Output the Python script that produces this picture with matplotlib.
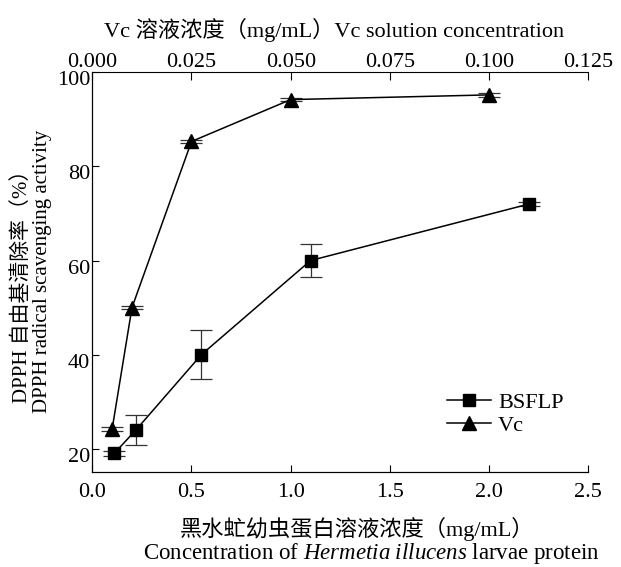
import matplotlib
matplotlib.use("Agg")
import matplotlib.pyplot as plt
import matplotlib.transforms as mtransforms

plt.rcParams['font.family'] = ['Liberation Serif', 'Noto Sans CJK SC', 'DejaVu Sans']
plt.rcParams['mathtext.fontset'] = 'custom'
plt.rcParams['mathtext.rm'] = 'Liberation Serif'
plt.rcParams['mathtext.it'] = 'Liberation Serif:italic'

# Data
bsflp_x = [0.11, 0.22, 0.55, 1.1, 2.2]          # mg/mL (bottom axis)
bsflp_y = [19.0, 24.0, 40.0, 60.0, 72.0]
bsflp_err = [0.5, 3.2, 5.2, 3.5, 0.5]

vc_x = [0.005, 0.01, 0.025, 0.05, 0.1]          # mg/mL (top axis)
vc_y = [24.2, 50.0, 85.3, 94.2, 95.2]
vc_err = [0.4, 0.4, 0.4, 0.4, 0.4]

bottom_ticks = [0.0, 0.5, 1.0, 1.5, 2.0, 2.5]
top_ticks = [0.0, 0.025, 0.05, 0.075, 0.1, 0.125]
y_ticks = [20, 40, 60, 80, 100]

W, H = 621, 567
fig = plt.figure(figsize=(W / 100, H / 100), dpi=100)
L, R, T, B = 92.3, 588.3, 72.3, 472.3
ax = fig.add_axes([L / W, (H - B) / H, (R - L) / W, (B - T) / H])
ax.set_xlim(0, 2.5)
ax.set_ylim(15, 100)
ax.spines['right'].set_visible(False)
ax.spines['top'].set_visible(False)
for s in ax.spines.values():
    s.set_linewidth(0.8)

ax.set_xticks(bottom_ticks)
ax.set_xticklabels([f"{v:.1f}" for v in bottom_ticks])
ax.set_yticks(y_ticks)
ax.set_yticklabels([str(v) for v in y_ticks])
ax.tick_params(axis='x', direction='in', length=5, width=0.8, labelsize=16, pad=8)
ax.tick_params(axis='y', direction='in', length=5, width=0.8, labelsize=16, pad=1.5)
off = mtransforms.ScaledTranslation(0, -6 / 100, fig.dpi_scale_trans)
for lab in ax.get_yticklabels():
    lab.set_transform(lab.get_transform() + off)

ax2 = ax.twiny()
ax2.set_xlim(0, 0.125)
ax2.spines['right'].set_visible(False)
for s in ax2.spines.values():
    s.set_linewidth(0.8)
ax2.set_xticks(top_ticks)
ax2.set_xticklabels([f"{v:.3f}" for v in top_ticks])
ax2.tick_params(axis='x', direction='in', length=5.5, width=0.8, labelsize=16, pad=0)

# BSFLP on bottom axis
ax.errorbar(bsflp_x, bsflp_y, yerr=bsflp_err, fmt='none', ecolor='#333333',
            elinewidth=0.9, capsize=8, capthick=0.9, zorder=2)
l1, = ax.plot(bsflp_x, bsflp_y, color='black', lw=1.1, marker='s', ms=8.5,
              zorder=3, label='BSFLP')

# Vc on top axis
ax2.errorbar(vc_x, vc_y, yerr=vc_err, fmt='none', ecolor='#333333',
             elinewidth=0.9, capsize=8, capthick=0.9, zorder=2)
l2, = ax2.plot(vc_x, vc_y, color='black', lw=1.1, marker='^', ms=10.5,
               zorder=3, label='Vc')

leg = ax2.legend(handles=[l1, l2], loc='center left',
                 bbox_to_anchor=((447 - L) / (R - L), (B - 414) / (B - T)),
                 frameon=False, fontsize=16, handlelength=2.0,
                 handletextpad=0.3, labelspacing=0.1, borderpad=0,
                 borderaxespad=0)

# Axis titles
fig.text(334 / W, 1 - 30 / H, 'Vc 溶液浓度（mg/mL）Vc solution concentration',
         ha='center', va='center', fontsize=16)
fig.text(357 / W, 1 - 529 / H, '黑水虻幼虫蛋白溶液浓度（mg/mL）',
         ha='center', va='center', fontsize=16)
fig.text(371 / W, 1 - 554 / H,
         r'Concentration of $\it{Hermetia\ illucens}$ larvae protein',
         ha='center', va='center', fontsize=16.5)
fig.text(21.7 / W, 1 - 281 / H, 'DPPH 自由基清除率（%）', rotation=90,
         ha='center', va='center', fontsize=15)
fig.text(43 / W, 1 - 271 / H, 'DPPH radical scavenging activity', rotation=90,
         ha='center', va='center', fontsize=15)

fig.savefig('out.png', dpi=100)
